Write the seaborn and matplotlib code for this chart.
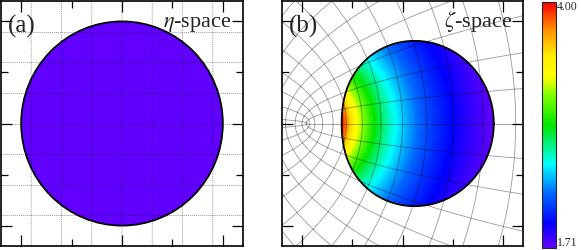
import numpy as np
import pandas as pd
import matplotlib
matplotlib.use("Agg")
from matplotlib import pyplot as plt
from matplotlib.colors import LinearSegmentedColormap
from matplotlib.patches import Circle
import seaborn as sns

# disk in eta-space, mapped to zeta-space by zeta = eta**2
disk_center = 1.25
disk_radius = 0.5
grid_step = 0.15
eta_half = 0.6
zeta_center = disk_center ** 2
zeta_half = 1.98
value_min = 1.71
value_max = 4.00
panel_labels = ["(a)", "(b)"]
space_labels = [r"$\eta$-space", r"$\zeta$-space"]
cbar_labels = ["4.00", "1.71"]

palette_nodes = [0.0, 0.1, 0.22, 0.34, 0.5, 0.62, 0.7, 0.78, 0.88, 1.0]
palette_colors = ["#6200ff", "#0000ff", "#0066ff", "#00ffff", "#00e600",
                  "#80ff00", "#ffff00", "#ffee00", "#ff9900", "#ff0000"]

sns.set_style("white")
plt.rcParams["font.family"] = ["Liberation Serif", "DejaVu Serif"]
plt.rcParams["mathtext.fontset"] = "stix"

cmap = LinearSegmentedColormap.from_list(
    "spec", list(zip(palette_nodes, palette_colors)))


def grid_lines():
    """Lattice of eta grid lines, as eta and zeta points."""
    rows = []
    t = np.linspace(-3.5, 3.5, 1400)
    line = 0
    # vertical lines x = const
    for j in range(-8, 5):
        xk = disk_center + j * grid_step
        eta = xk + 1j * t
        rows.append(pd.DataFrame({"x": eta.real, "y": eta.imag,
                                  "u": (eta ** 2).real, "v": (eta ** 2).imag,
                                  "line": line}))
        line += 1
    # horizontal lines y = const
    s = np.linspace(0, 3.5, 1400)
    for j in range(-12, 13):
        yk = j * grid_step
        eta = s + 1j * yk
        rows.append(pd.DataFrame({"x": eta.real, "y": eta.imag,
                                  "u": (eta ** 2).real, "v": (eta ** 2).imag,
                                  "line": line}))
        line += 1
    return pd.concat(rows, ignore_index=True)


lines = grid_lines()

fig = plt.figure(figsize=(5.81, 2.5), dpi=100)
ax_a = fig.add_axes([1 / 581, 4 / 250, 242 / 581, 245 / 250])
ax_b = fig.add_axes([282 / 581, 4 / 250, 241 / 581, 245 / 250])
cax = fig.add_axes([542 / 581, 2 / 250, 14 / 581, 246 / 250])

# (a) eta-space
ax_a.add_patch(Circle((disk_center, 0), disk_radius, facecolor=cmap(0.0),
                      edgecolor="none", zorder=3))
ax_a.add_patch(Circle((disk_center, 0), disk_radius, facecolor="none",
                      edgecolor="black", lw=1.3, zorder=5))
sns.lineplot(data=lines, x="x", y="y", units="line", estimator=None, sort=False,
             color="black", alpha=0.4, lw=0.7, linestyle=(0, (1, 1)),
             ax=ax_a, zorder=4, legend=False)
ax_a.set_xlim(disk_center - eta_half, disk_center + eta_half)
ax_a.set_ylim(-eta_half, eta_half)

# (b) zeta-space
u = np.linspace(zeta_center - zeta_half, zeta_center + zeta_half, 700)
v = np.linspace(-zeta_half, zeta_half, 700)
U, V = np.meshgrid(u, v)
E = np.sqrt(U + 1j * V)
inside = np.abs(E - disk_center) <= disk_radius
field = value_max * (disk_center - disk_radius) / np.abs(E)
im = ax_b.imshow(np.ma.masked_where(~inside, field), origin="lower",
                 extent=[u[0], u[-1], v[0], v[-1]], cmap=cmap,
                 vmin=value_min, vmax=value_max, aspect="auto",
                 interpolation="bilinear", zorder=1)
sns.lineplot(data=lines, x="u", y="v", units="line", estimator=None, sort=False,
             color="black", alpha=0.4, lw=0.6, ax=ax_b, zorder=2, legend=False)
theta = np.linspace(0, 2 * np.pi, 400)
rim = (disk_center + disk_radius * np.exp(1j * theta)) ** 2
ax_b.plot(rim.real, rim.imag, color="black", lw=1.3, zorder=3)
ax_b.set_xlim(zeta_center - zeta_half, zeta_center + zeta_half)
ax_b.set_ylim(-zeta_half, zeta_half)

for ax, centre, half, lab, sp in [(ax_a, disk_center, eta_half, panel_labels[0], space_labels[0]),
                                  (ax_b, zeta_center, zeta_half, panel_labels[1], space_labels[1])]:
    step = half / eta_half * 0.25
    ax.set_xticks([centre - 2 * step, centre, centre + 2 * step])
    ax.set_xticks([centre - step, centre + step], minor=True)
    ax.set_yticks([-2 * step, 0, 2 * step])
    ax.set_yticks([-step, step], minor=True)
    ax.tick_params(which="both", direction="in", top=True, right=True,
                   bottom=True, left=True,
                   labelbottom=False, labelleft=False, width=0.9, color="black")
    ax.tick_params(which="major", length=8)
    ax.tick_params(which="minor", length=5)
    ax.set_xlabel("")
    ax.set_ylabel("")
    for side in ax.spines.values():
        side.set_linewidth(1.2)
        side.set_color("black")
        side.set_zorder(6)
    ax.text(0.03, 0.872, lab, transform=ax.transAxes, fontsize=18,
            va="baseline", ha="left", zorder=7)
    ax.text(0.955, 0.895, sp, transform=ax.transAxes, fontsize=16,
            va="baseline", ha="right", zorder=7)

cb = fig.colorbar(im, cax=cax)
cb.set_ticks([])
cb.outline.set_linewidth(0.8)
fig.text(557 / 581, 0.998, cbar_labels[0], fontsize=8.5, va="top", ha="left")
fig.text(557 / 581, 0.002, cbar_labels[1], fontsize=8.5, va="bottom", ha="left")

fig.savefig("out.png", dpi=100)
